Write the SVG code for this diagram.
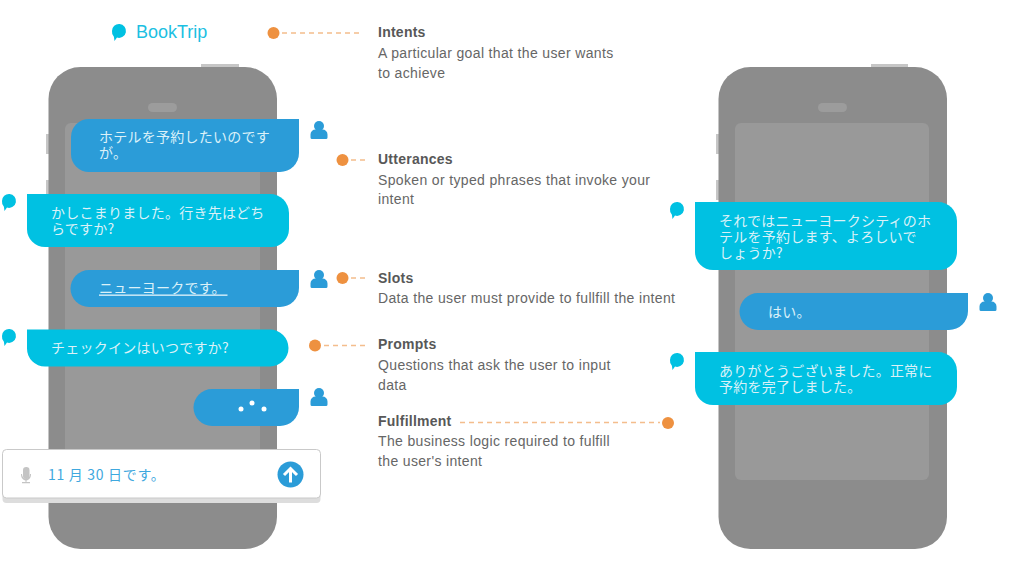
<svg xmlns="http://www.w3.org/2000/svg" width="1019" height="585" viewBox="0 0 1019 585">
<style>
text{font-family:"Noto Sans CJK JP","Noto Sans",sans-serif}
.body{fill:#8c8c8c}.screen{fill:#999}.btn{fill:#c6c6c6}.sp{fill:#9c9c9c}
.user{fill:#2b9cd8}.bot{fill:#00c1e2}
.m{fill:#dbf1f8;font-size:14px;letter-spacing:.24px}
.h{font-family:"Liberation Sans",Arial,sans-serif;font-size:14px;font-weight:bold;fill:#585858;letter-spacing:.25px}
.d{font-family:"Liberation Sans",Arial,sans-serif;font-size:14px;fill:#666;letter-spacing:.35px}
.dot{fill:#ee9140}.ln{stroke:#f4bd8c;stroke-width:1.5;stroke-dasharray:5 4;fill:none}
</style>
<defs>
<g id="botic"><path d="M0 0a7 7 0 1 1 5 6.600l-2.500 3.400-.6-4.300A7 7 0 0 1 0 0z" class="bot"/></g>
<g id="useric"><circle cx="0" cy="-5" r="5" class="user"/><path d="M-8.500 6.500v-3a5 5 0 0 1 5-5h7a5 5 0 0 1 5 5v3a1.500 1.500 0 0 1-1.500 1.500h-14a1.500 1.500 0 0 1-1.500-1.500z" class="user"/></g>
</defs>
<g id="phone-left">
<rect class="btn" x="201" y="64" width="38" height="6"/><rect class="btn" x="46" y="134" width="6" height="20"/><rect class="btn" x="46" y="180" width="6" height="20"/>
<rect class="body" x="48.500" y="67" width="228.500" height="482" rx="32"/><rect class="sp" x="148" y="103" width="29" height="9" rx="4.500"/><rect class="screen" x="65" y="123" width="195" height="357" rx="6"/>
</g>
<g id="phone-right">
<rect class="btn" x="871" y="64" width="37" height="6"/><rect class="btn" x="716" y="134" width="6" height="20"/><rect class="btn" x="716" y="180" width="6" height="20"/>
<rect class="body" x="718.500" y="67" width="228.500" height="482" rx="32"/><rect class="sp" x="818" y="103" width="29" height="9" rx="4.500"/><rect class="screen" x="735" y="123" width="194" height="357" rx="6"/>
</g>
<g id="booktrip"><use href="#botic" x="112" y="31"/><text x="136" y="38" font-size="18" fill="#1cc0e2" style="font-family:'Liberation Sans',Arial,sans-serif">BookTrip</text></g>
<g id="m1"><path class="user" d="M89 119H299V153a19 19 0 0 1-19 19H89a18 18 0 0 1-18-18V137a18 18 0 0 1 18-18z"/><text class="m" x="99" y="142">ホテルを予約したいのです</text><text class="m" x="99" y="158">が。</text><use href="#useric" x="319" y="131"/></g>
<g id="m2"><path class="bot" d="M27 194H270a19 19 0 0 1 19 19V229a18 18 0 0 1-18 18H45a18 18 0 0 1-18-18z"/><text class="m" x="51" y="218">かしこまりました。行き先はどち</text><text class="m" x="51" y="234">らですか?</text><use href="#botic" x="2" y="201"/></g>
<g id="m3"><path class="user" d="M89 270H299V288a19 19 0 0 1-19 19H89a18.500 18.500 0 0 1 0-37z"/><text class="m" x="99" y="293">ニューヨークです。</text><rect x="99" y="294.500" width="128.500" height="1.300" fill="#e4f4fb"/><use href="#useric" x="319" y="280"/></g>
<g id="m4"><path class="bot" d="M27 329.500H270a18.500 18.500 0 0 1 0 37H45a18 18 0 0 1-18-18z"/><text class="m" x="51" y="353">チェックインはいつですか?</text><use href="#botic" x="2" y="336"/></g>
<g id="m5"><path class="user" d="M212 389H299V407a19 19 0 0 1-19 19H212a18.500 18.500 0 0 1 0-37z"/><circle cx="241" cy="409" r="2.500" fill="#fff"/><circle cx="252" cy="403" r="2.500" fill="#fff"/><circle cx="264" cy="409" r="2.500" fill="#fff"/><use href="#useric" x="319" y="398"/></g>
<g id="input"><rect x="2.500" y="451" width="318" height="52" rx="4" fill="#ddd"/><rect x="2.500" y="449.500" width="318" height="48.500" rx="4" fill="#fff" stroke="#c9c9c9"/>
<g fill="#c4c4c4"><rect x="23" y="467" width="6.500" height="12" rx="3.200"/><path d="M21 474h1c0 6 8 6 8 0h1c0 4-2 6-4.500 6.500V482H30v1.300h-8V482h3.500v-1.500C23 480 21 478 21 474z"/></g>
<text x="48" y="480" font-size="14" fill="#3fa8de" letter-spacing=".7">11 月 30 日です。</text>
<circle cx="290.500" cy="474.500" r="13" fill="#2b9cd8"/><path d="M290.500 482.500v-13M284 475l6.500-6.500L297 475" stroke="#fff" stroke-width="3" fill="none"/></g>
<g id="m6"><path class="bot" d="M695 202H938a19 19 0 0 1 19 19V252a18 18 0 0 1-18 18H713a18 18 0 0 1-18-18z"/><text class="m" x="719" y="226">それではニューヨークシティのホ</text><text class="m" x="719" y="242">テルを予約します、よろしいで</text><text class="m" x="719" y="258">しょうか?</text><use href="#botic" x="670" y="209"/></g>
<g id="m7"><path class="user" d="M758 293H968V311a19 19 0 0 1-19 19H758a18.500 18.500 0 0 1 0-37z"/><text class="m" x="768" y="317">はい。</text><use href="#useric" x="988" y="303"/></g>
<g id="m8"><path class="bot" d="M695 352H938a19 19 0 0 1 19 19V387a18 18 0 0 1-18 18H713a18 18 0 0 1-18-18z"/><text class="m" x="719" y="376">ありがとうございました。正常に</text><text class="m" x="719" y="392">予約を完了しました。</text><use href="#botic" x="670" y="360"/></g>
<g id="connectors">
<path class="ln" d="M282 33H361"/><path class="ln" d="M351 160H366"/><path class="ln" d="M351 278H366"/><path class="ln" d="M324 345.500H366"/><path class="ln" d="M460 422.500H660"/>
<circle class="dot" cx="273.500" cy="33" r="6"/><circle class="dot" cx="342.500" cy="160" r="6"/><circle class="dot" cx="342.500" cy="278" r="6"/><circle class="dot" cx="315" cy="345.500" r="6"/><circle class="dot" cx="668" cy="423" r="6"/>
</g>
<g id="legend">
<text class="h" x="378" y="37">Intents</text><text class="d" x="378" y="58">A particular goal that the user wants</text><text class="d" x="378" y="78">to achieve</text>
<text class="h" x="378" y="164">Utterances</text><text class="d" x="378" y="185">Spoken or typed phrases that invoke your</text><text class="d" x="378" y="204">intent</text>
<text class="h" x="378" y="283">Slots</text><text class="d" x="378" y="303">Data the user must provide to fullfill the intent</text>
<text class="h" x="378" y="349">Prompts</text><text class="d" x="378" y="370">Questions that ask the user to input</text><text class="d" x="378" y="390">data</text>
<text class="h" x="378" y="426">Fulfillment</text><text class="d" x="378" y="446">The business logic required to fulfill</text><text class="d" x="378" y="466">the user's intent</text>
</g>
</svg>
